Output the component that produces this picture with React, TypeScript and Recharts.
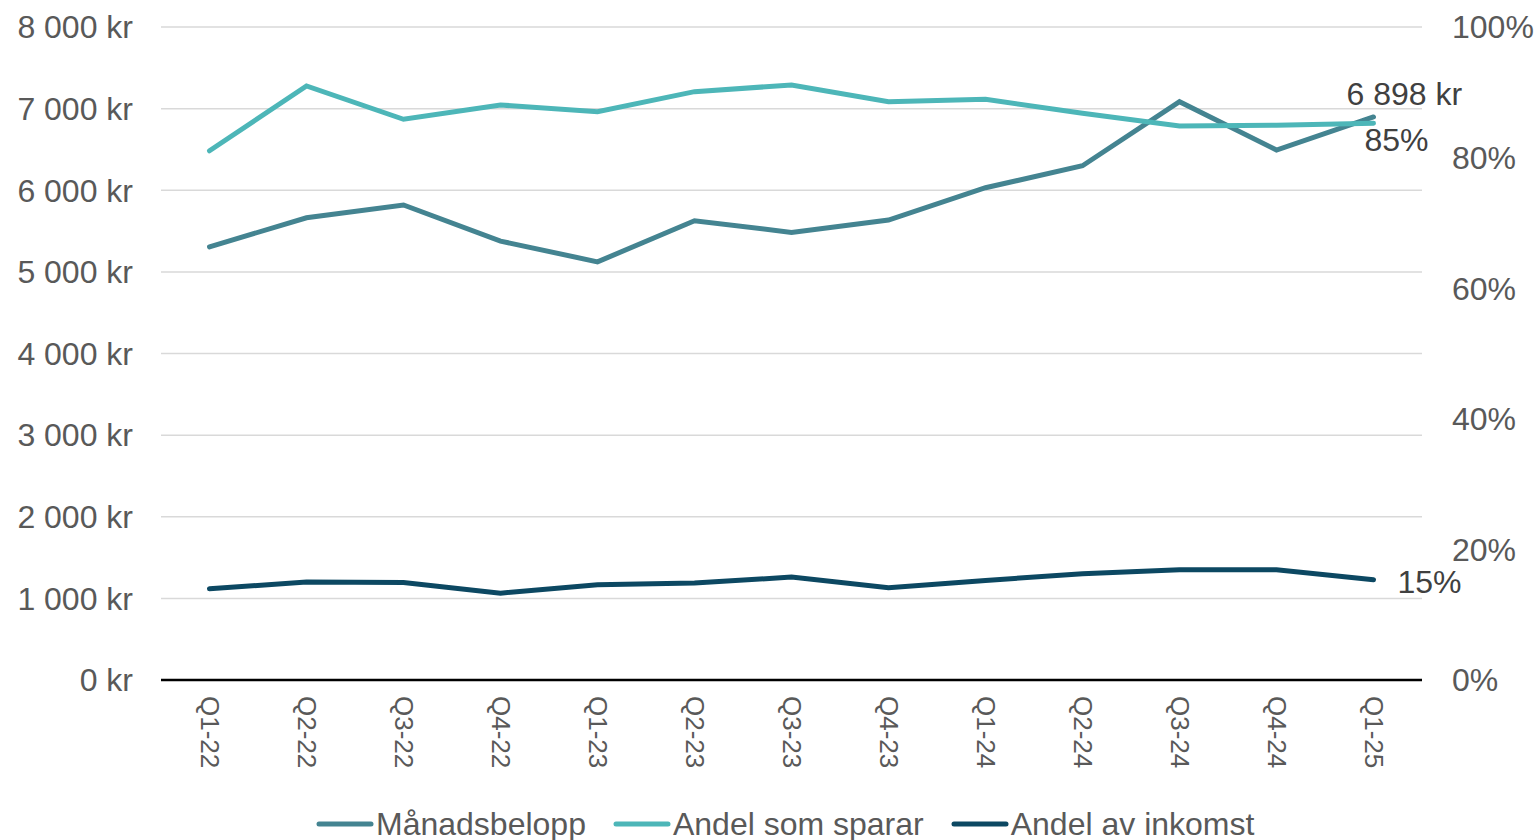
import React from 'react';
import { LineChart, Line, XAxis, YAxis, CartesianGrid, Legend } from 'recharts';

const quarters = ['Q1-22', 'Q2-22', 'Q3-22', 'Q4-22', 'Q1-23', 'Q2-23', 'Q3-23', 'Q4-23', 'Q1-24', 'Q2-24', 'Q3-24', 'Q4-24', 'Q1-25'];
const manadsbelopp = [5307, 5663, 5819, 5377, 5123, 5626, 5484, 5635, 6031, 6300, 7085, 6493, 6898];
const andelSomSparar = [0.8105, 0.9097, 0.8587, 0.8806, 0.8703, 0.901, 0.9112, 0.8856, 0.8893, 0.8679, 0.8484, 0.8495, 0.8525];
const andelAvInkomst = [0.1398, 0.1499, 0.1494, 0.133, 0.1459, 0.1484, 0.1576, 0.1413, 0.1525, 0.1628, 0.1689, 0.1689, 0.1536];
const leftTicks = [0, 1000, 2000, 3000, 4000, 5000, 6000, 7000, 8000];
const rightTicks = [0, 0.2, 0.4, 0.6, 0.8, 1];

const seriesNames = ['Månadsbelopp', 'Andel som sparar', 'Andel av inkomst'];
const seriesColors = ['#448491', '#4DB6B8', '#0C4862'];

const data = quarters.map((q, i) => ({
  q,
  m: manadsbelopp[i],
  s: andelSomSparar[i],
  a: andelAvInkomst[i],
}));

const FONT = '"Liberation Sans", Arial, sans-serif';
const TEXT = '#595959';
const LABEL = '#404040';
const FS = 32;
const last = quarters.length - 1;

const fmtKr = (v: number) => {
  if (v === 0) return '0 kr';
  const th = Math.floor(v / 1000);
  const rest = Math.round(v % 1000);
  return `${th} ${String(rest).padStart(3, '0')} kr`;
};
const fmtPct = (v: number) => `${Math.round(v * 100)}%`;

const XTick = (props: any) => {
  const { x, y, payload } = props;
  return (
    <text
      transform={`translate(${x},${y + 8}) rotate(90)`}
      textAnchor="start"
      dominantBaseline="central"
      fill={TEXT}
      fontSize={26}
      fontFamily={FONT}
    >
      {payload.value}
    </text>
  );
};

const makeLabel = (text: (v: number) => string, dx: number, dy: number) => (props: any) => {
  const { x, y, index, value } = props;
  if (index !== last) return <g />;
  return (
    <text x={x + dx} y={y + dy} fill={LABEL} fontSize={FS} fontFamily={FONT} textAnchor="start">
      {text(value)}
    </text>
  );
};

const LegendContent = () => (
  <div
    style={{
      display: 'flex',
      alignItems: 'center',
      height: 32,
      paddingLeft: 316,
      fontFamily: FONT,
      fontSize: FS,
      lineHeight: '32px',
      color: TEXT,
      whiteSpace: 'nowrap',
    }}
  >
    {seriesNames.map((n, i) => (
      <div key={n} style={{ display: 'flex', alignItems: 'center', marginRight: 27 }}>
        <svg width={58} height={8} style={{ display: 'block', marginRight: 2 }}>
          <line x1={3} y1={4} x2={55} y2={4} stroke={seriesColors[i]} strokeWidth={5} strokeLinecap="round" />
        </svg>
        <span>{n}</span>
      </div>
    ))}
  </div>
);

export default function App() {
  return (
    <div style={{ position: 'absolute', left: 0, top: 0, width: 1537, height: 840, background: '#fff' }}>
      <LineChart
        width={1537}
        height={840}
        data={data}
        margin={{ top: 27, right: 0, left: 0, bottom: 0 }}
        style={{ fontFamily: FONT }}
      >
        <CartesianGrid yAxisId="left" vertical={false} stroke="#D9D9D9" strokeWidth={1.5} />
        <XAxis
          dataKey="q"
          height={160}
          interval={0}
          padding={{ left: 48.5, right: 48.5 }}
          tickLine={false}
          axisLine={{ stroke: '#000', strokeWidth: 2.5 }}
          tick={<XTick />}
        />
        <YAxis
          yAxisId="left"
          width={161}
          domain={[0, 8000]}
          ticks={leftTicks}
          tickFormatter={fmtKr}
          axisLine={false}
          tickLine={false}
          tickMargin={22}
          tick={{ fill: TEXT, fontSize: FS, fontFamily: FONT }}
        />
        <YAxis
          yAxisId="right"
          orientation="right"
          width={115}
          domain={[0, 1]}
          ticks={rightTicks}
          tickFormatter={fmtPct}
          axisLine={false}
          tickLine={false}
          tickMargin={24}
          tick={{ fill: TEXT, fontSize: FS, fontFamily: FONT }}
        />
        <Legend
          layout="horizontal"
          verticalAlign="middle"
          align="center"
          content={<LegendContent />}
          wrapperStyle={{ position: 'absolute', top: 808, left: 0, width: 1537, height: 32 }}
        />
        <Line
          yAxisId="left"
          dataKey="m"
          name={seriesNames[0]}
          stroke={seriesColors[0]}
          strokeWidth={5}
          strokeLinecap="round"
          dot={false}
          activeDot={false}
          isAnimationActive={false}
          label={makeLabel(fmtKr, -27, -12)}
        />
        <Line
          yAxisId="right"
          dataKey="s"
          name={seriesNames[1]}
          stroke={seriesColors[1]}
          strokeWidth={5}
          strokeLinecap="round"
          dot={false}
          activeDot={false}
          isAnimationActive={false}
          label={makeLabel(fmtPct, -9, 28)}
        />
        <Line
          yAxisId="right"
          dataKey="a"
          name={seriesNames[2]}
          stroke={seriesColors[2]}
          strokeWidth={5}
          strokeLinecap="round"
          dot={false}
          activeDot={false}
          isAnimationActive={false}
          label={makeLabel(fmtPct, 24, 13)}
        />
      </LineChart>
    </div>
  );
}
